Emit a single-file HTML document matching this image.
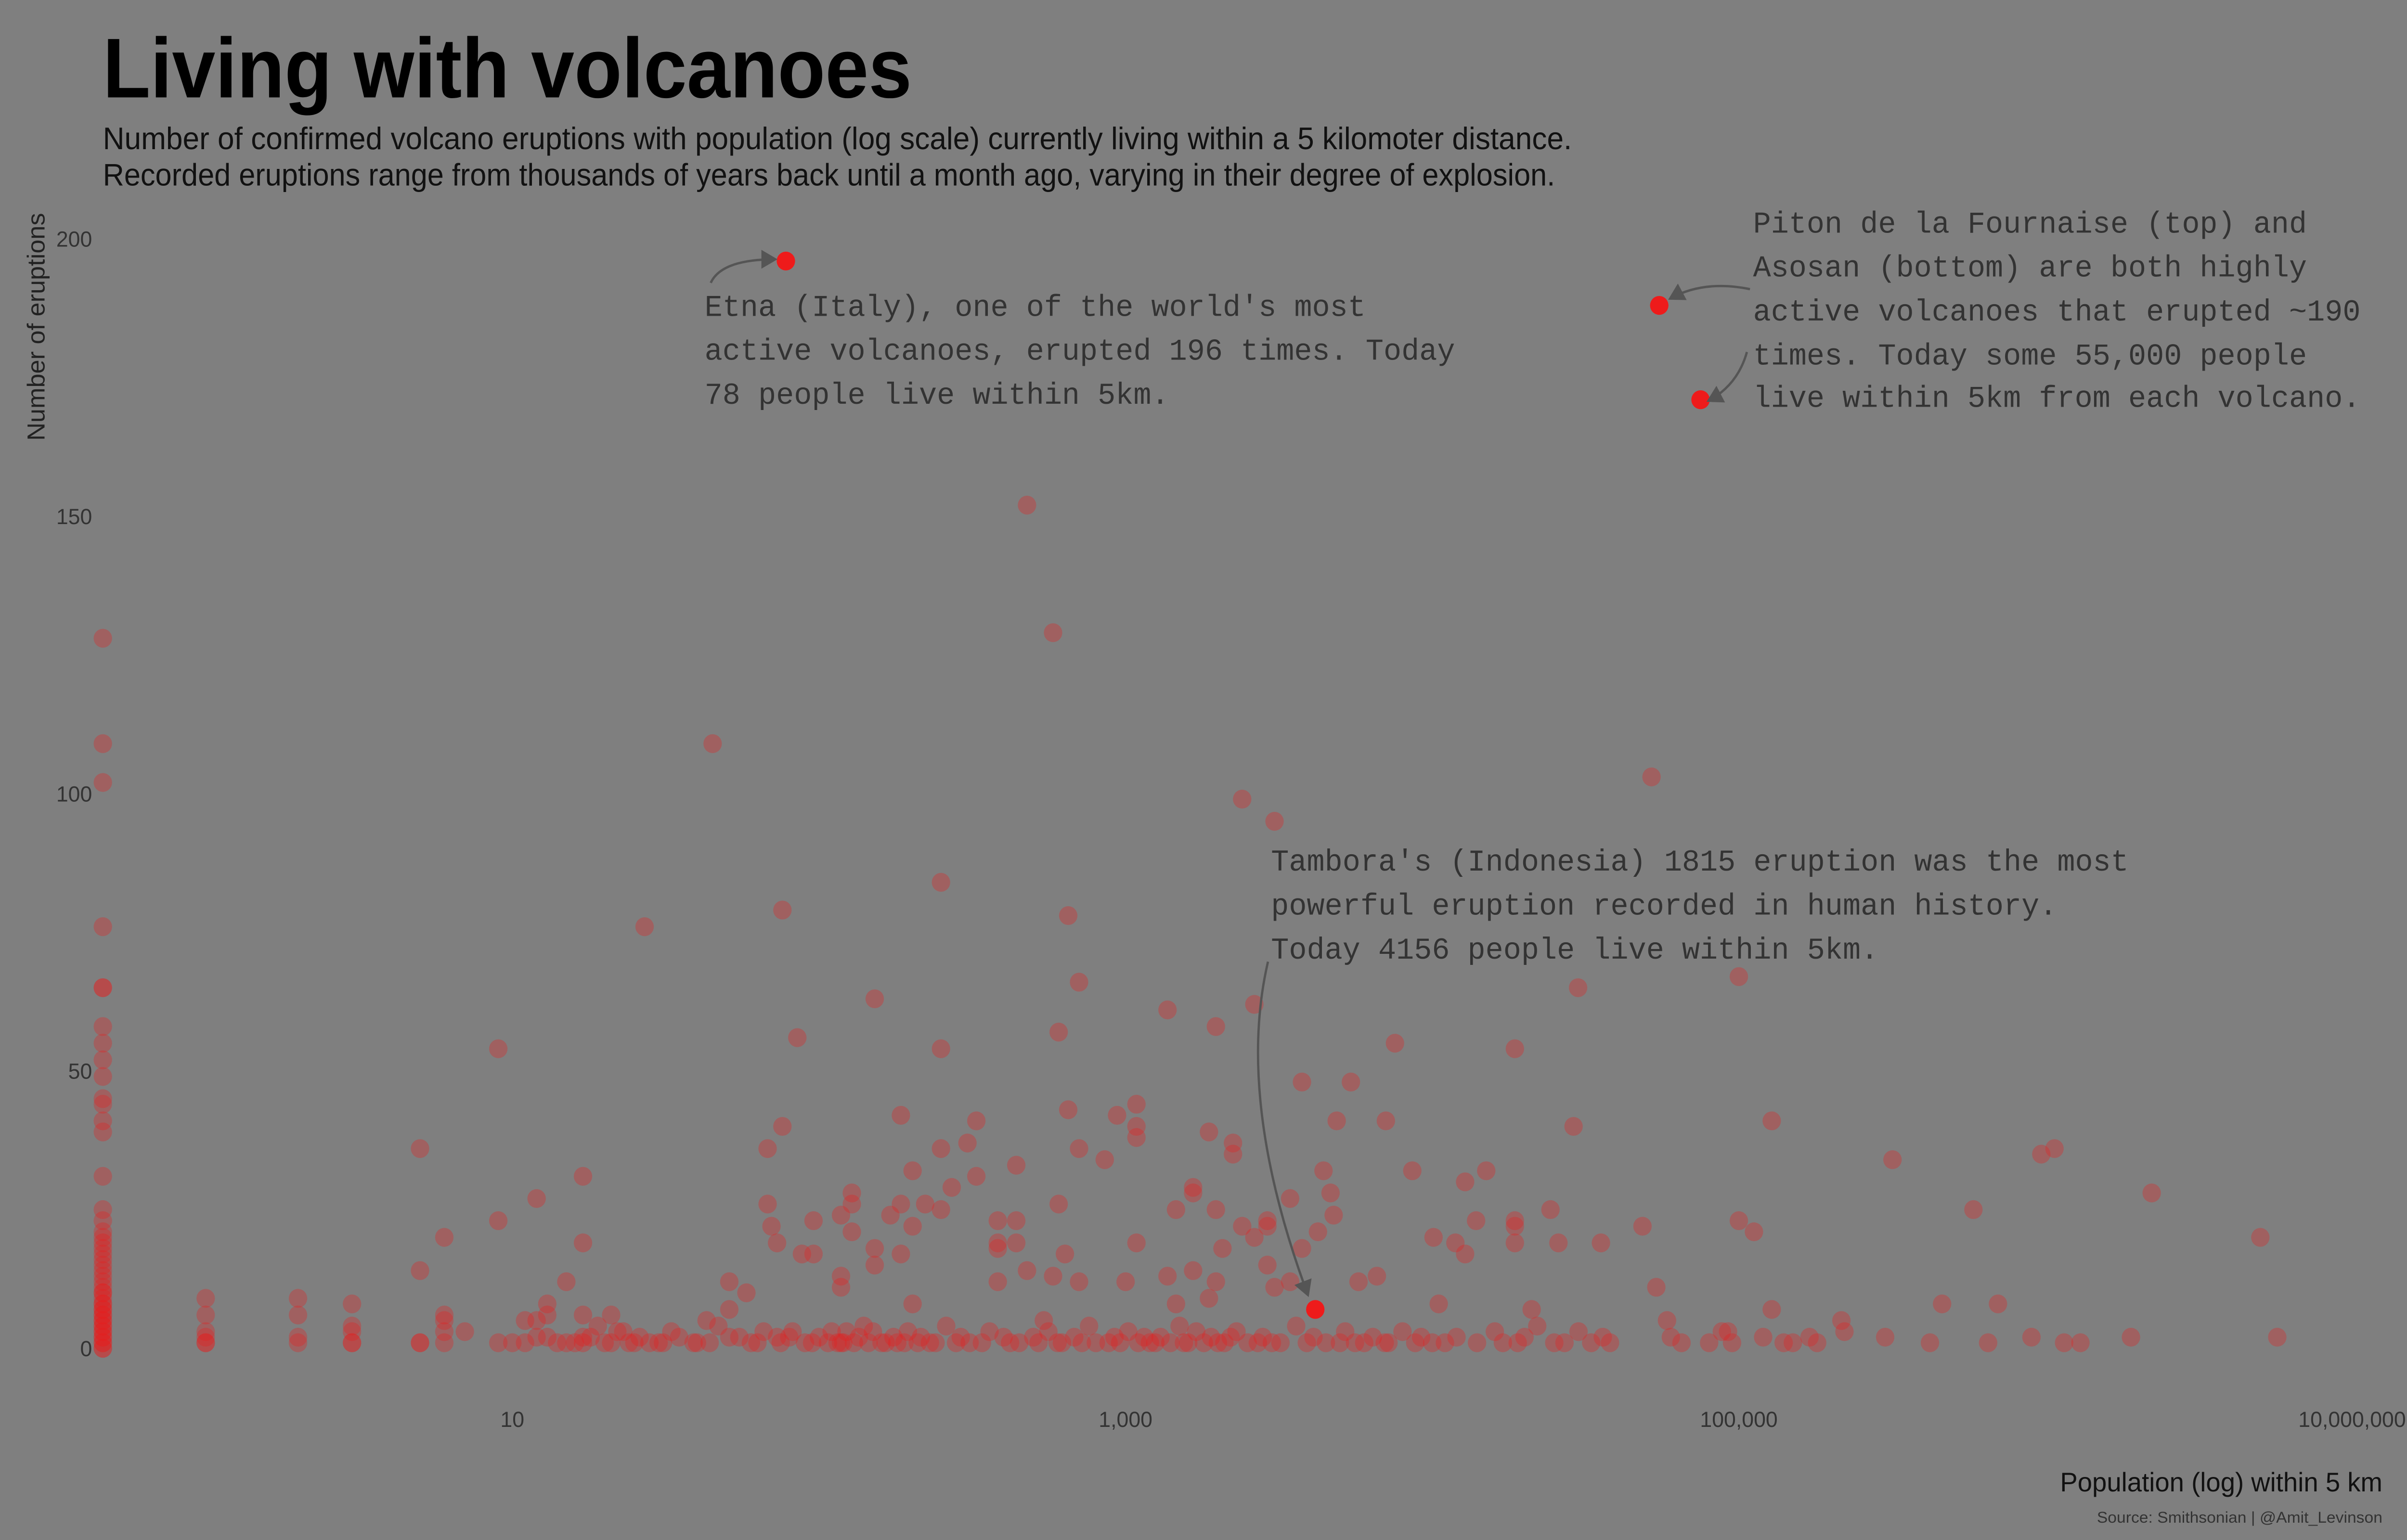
<!DOCTYPE html>
<html><head><meta charset="utf-8"><style>
html,body{margin:0;padding:0;background:#7f7f7f;overflow:hidden;width:100%;height:100%;}
svg{display:block;position:fixed;left:0;top:0;width:100vw;height:100vh;}
.narrow{font-family:"Liberation Sans Narrow","Liberation Sans",sans-serif;}
.mono{font-family:"Liberation Mono",monospace;font-size:19.4px;fill:#333;}
</style></head><body>
<svg id="chart" viewBox="0 0 1568 980" preserveAspectRatio="none" xmlns="http://www.w3.org/2000/svg">
<defs><marker id="ah" markerWidth="8" markerHeight="8" refX="6" refY="4" orient="auto"><path d="M0,0 L7,4 L0,8 z" fill="#555"/></marker></defs>
<rect x="0" y="0" width="1568" height="980" fill="#7f7f7f"/>
<text class="narrow" x="67" y="62" font-size="54" font-weight="bold" fill="#000" textLength="527" lengthAdjust="spacingAndGlyphs">Living with volcanoes</text>
<text class="narrow" x="67" y="95" font-size="20" fill="#111" textLength="957" lengthAdjust="spacingAndGlyphs">Number of confirmed volcano eruptions with population (log scale) currently living within a 5 kilomoter distance.</text>
<text class="narrow" x="67" y="118" font-size="20" fill="#111" textLength="946" lengthAdjust="spacingAndGlyphs">Recorded eruptions range from thousands of years back until a month ago, varying in their degree of explosion.</text>
<text class="narrow" transform="translate(29,208) rotate(-90)" text-anchor="middle" font-size="16" fill="#222">Number of eruptions</text>
<g id="yticks"></g>
<g id="xticks"></g>
<g id="points"></g>
<g id="hl"></g>
<text class="narrow" x="1552" y="949" text-anchor="end" font-size="17" fill="#111" textLength="210" lengthAdjust="spacingAndGlyphs">Population (log) within 5 km</text>
<text class="narrow" x="1552" y="969" text-anchor="end" font-size="10" fill="#333" textLength="186" lengthAdjust="spacingAndGlyphs">Source: Smithsonian | @Amit_Levinson</text>
<g>
<path d="M463,180 Q470,165 505,165" fill="none" stroke="#555" stroke-width="1.5" marker-end="url(#ah)"/>
<text class="mono" x="459" y="201">Etna (Italy), one of the world's most</text>
<text class="mono" x="459" y="229">active volcanoes, erupted 196 times. Today</text>
<text class="mono" x="459" y="257">78 people live within 5km.</text>
</g>
<g>
<path d="M1140,184 Q1110,178 1088,190" fill="none" stroke="#555" stroke-width="1.5" marker-end="url(#ah)"/>
<path d="M1138,224 Q1132,245 1113,255" fill="none" stroke="#555" stroke-width="1.5" marker-end="url(#ah)"/>
<text class="mono" x="1142" y="148">Piton de la Fournaise (top) and</text>
<text class="mono" x="1142" y="176">Asosan (bottom) are both highly</text>
<text class="mono" x="1142" y="204">active volcanoes that erupted ~190</text>
<text class="mono" x="1142" y="232">times. Today some 55,000 people</text>
<text class="mono" x="1142" y="259">live within 5km from each volcano.</text>
</g>
<g>
<path d="M826,612 Q805,700 852,824" fill="none" stroke="#555" stroke-width="1.5" marker-end="url(#ah)"/>
<text class="mono" x="828" y="554">Tambora's (Indonesia) 1815 eruption was the most</text>
<text class="mono" x="828" y="582">powerful eruption recorded in human history.</text>
<text class="mono" x="828" y="610">Today 4156 people live within 5km.</text>
</g>
</svg>
<script>
const yTicks=[0,50,100,150,200];
const xTicks=[10,1000,100000,10000000];
const xTickLabels=["10","1,000","100,000","10,000,000"];
const zeroEruptions=[128,109,102,76,65,65,58,55,52,49,45,44,41,39,31,25,23,21,19,17,15,14,12,11,10,9,8,7,6,5,4,3,2,1,0,0,1,2,3,4,5,6,7,8,10,13,16,18,20];
const popValues=[1,1,1,1,1,2,2,2,3,3,3,3,5,5,5,6,6,6,6,7,9,9,10,11,12,12,12,13,13,15,15,17,17,17,17,17,21,21,23,25,27,30,39,43,45,51,51,51,58,68,68,70,73,73,76,76,82,85,88,96,96,107,118,118,118,118,123,128,128,128,152,152,152,171,185,185,185,202,202,202,222,250,250,250,250,271,305,326,326,383,383,383,383,440,440,440,477,477,541,580,580,605,605,634,650,650,705,705,705,855,938,1000,1085,1085,1085,1085,1370,1370,1460,1460,1660,1660,1660,1870,1870,1970,1970,1970,2070,2240,2240,2400,2400,2630,2630,2900,2900,2900,3060,3060,3440,3440,3760,3760,4240,4420,4660,4770,4880,5430,5750,6600,7060,7560,8610,10100,10500,11900,12800,12800,13900,15000,18600,18600,18600,18600,21100,24300,25800,28900,29900,35500,48500,51900,53800,58300,92200,100000,100000,112000,128000,128000,216000,221000,317000,460000,582000,700000,969000,1070000,2220000,5020000,5700000];
const eruptValues=[9,6,3,2,1,9,6,1,8,4,3,1,36,14,1,20,6,5,1,3,54,23,1,5,27,5,2,8,6,12,1,31,19,6,2,1,6,1,3,1,76,1,1,5,109,7,12,2,10,26,36,22,19,2,79,40,3,56,17,17,23,1,24,11,13,1,3,28,26,21,15,63,18,24,17,26,42,8,32,22,26,25,84,54,36,29,37,31,41,19,23,18,12,19,33,23,14,152,5,13,129,57,26,17,43,78,12,66,36,34,42,12,38,40,44,19,13,61,8,25,28,29,14,9,39,12,58,25,18,35,37,22,99,20,62,22,15,23,11,95,12,27,18,48,21,32,28,24,41,48,12,13,41,55,32,20,8,19,30,17,23,32,19,54,22,23,7,25,19,40,65,19,22,103,11,5,3,23,67,21,7,41,5,3,34,8,25,8,35,36,28,20,2,10];
const lowPops=[1,2,3,5,6,9,11,13,14,16,18,19,20,22,24,26,28,31,33,35,40,44,47,55,60,63,66,75,80,90,95,100,110,115,120,130,135,140,145,150,160,165,175,180,190,195,210,215,230,240,260,280,290,310,340,360,400,420,450,500,520,560,600,620,680,720,760,800,880,920,960,1020,1100,1150,1200,1250,1300,1400,1500,1550,1600,1700,1800,1900,2000,2100,2200,2300,2500,2700,2800,3000,3200,3600,3900,4100,4500,5000,5200,5600,6000,6400,7000,7200,8000,8800,9200,10000,11000,12000,14000,16000,17000,19000,20000,22000,25000,27000,30000,33000,36000,38000,60000,65000,80000,88000,95000,120000,140000,150000,170000,180000,300000,420000,650000,900000,1150000,1300000,1900000];
const lowErupt=[1,2,1,1,3,1,1,2,1,1,2,4,1,3,1,2,1,1,3,2,1,1,4,2,1,1,3,1,2,1,1,2,3,1,1,1,2,4,1,3,1,1,2,1,1,3,1,2,1,1,4,1,2,1,1,3,2,1,1,2,1,3,1,1,2,1,4,1,1,2,1,3,1,2,1,1,2,1,4,1,1,3,1,2,1,1,2,3,1,1,2,1,1,4,1,2,1,1,3,1,1,2,1,1,3,1,2,1,1,2,1,3,1,1,2,4,1,1,3,1,2,1,2,1,1,3,1,2,1,1,2,1,2,1,1,2,1,1,2,1,1,2,1];
const hlPops=[78,55000,75000,4156];
const hlErupt=[196,188,171,7];
const hlNames=["point-etna","point-piton-de-la-fournaise","point-asosan","point-tambora"];
const NS="http://www.w3.org/2000/svg";
function xs(p){return p<=0?67:134+Math.log10(p)*199.75;}
function ys(v){return 858-v*3.53;}
const yg=document.getElementById('yticks');
yTicks.forEach(t=>{const e=document.createElementNS(NS,'text');


e.setAttribute('x',60);e.setAttribute('y',ys(t)+5);e.setAttribute('text-anchor','end');e.setAttribute('font-size','14');e.setAttribute('fill','#333');e.setAttribute('class','narrow');e.textContent=t;yg.appendChild(e);});
const xg=document.getElementById('xticks');
xTicks.forEach((t,i)=>{const e=document.createElementNS(NS,'text');


e.setAttribute('x',xs(t));e.setAttribute('y',908);e.setAttribute('text-anchor','middle');e.setAttribute('font-size','14');e.setAttribute('fill','#333');e.setAttribute('class','narrow');e.textContent=xTickLabels[i];xg.appendChild(e);});
const pg=document.getElementById('points');
function dot(p,v){if(v===undefined||p===undefined)return;const c=document.createElementNS(NS,'circle');


c.setAttribute('cx',xs(p));c.setAttribute('cy',ys(v));c.setAttribute('r',6);c.setAttribute('fill','rgba(230,30,30,0.32)');pg.appendChild(c);}
zeroEruptions.forEach(v=>dot(0,v));
popValues.forEach((p,i)=>dot(p,eruptValues[i]));
lowPops.forEach((p,i)=>dot(p,lowErupt[i]));
const hg=document.getElementById('hl');
hlPops.forEach((p,i)=>{const c=document.createElementNS(NS,'circle');


c.setAttribute('cx',xs(p));c.setAttribute('cy',ys(hlErupt[i]));c.setAttribute('r',6);c.setAttribute('fill','#ee1b1b');hg.appendChild(c);});
</script>
</body></html>
